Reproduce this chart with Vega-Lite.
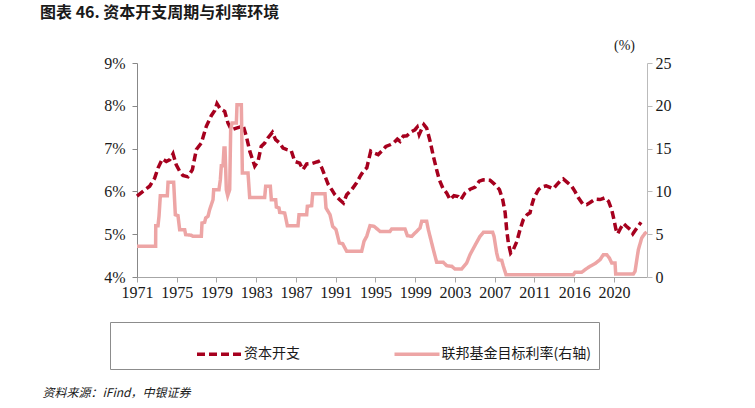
{
  "$schema": "https://vega.github.io/schema/vega-lite/v6.json",
  "width": 510,
  "height": 214,
  "autosize": {"type": "none"},
  "padding": {"left": 137, "top": 63, "right": 108, "bottom": 131},
  "background": "white",
  "title": {
    "text": "图表 46. 资本开支周期与利率环境",
    "anchor": "start",
    "frame": "group",
    "dx": -97,
    "offset": 17,
    "font": "Noto Sans CJK SC",
    "fontSize": 16,
    "fontWeight": "bold",
    "color": "#1a1a1a"
  },
  "datasets": {
    "capex": [
      {"i": 0, "v": 5.89}, {"i": 2.4, "v": 6.0}, {"i": 5.1, "v": 6.12}, {"i": 7.1, "v": 6.31}, {"i": 8.5, "v": 6.55},
      {"i": 10.2, "v": 6.76}, {"i": 11.8, "v": 6.7}, {"i": 13.2, "v": 6.74}, {"i": 14.5, "v": 6.88}, {"i": 15.8, "v": 6.62},
      {"i": 17.2, "v": 6.47}, {"i": 18.5, "v": 6.37}, {"i": 20.5, "v": 6.34}, {"i": 22.3, "v": 6.51}, {"i": 23.9, "v": 6.98},
      {"i": 25.9, "v": 7.13}, {"i": 27.9, "v": 7.52}, {"i": 29.9, "v": 7.77}, {"i": 31.3, "v": 7.89}, {"i": 32.2, "v": 8.05},
      {"i": 33.5, "v": 7.93}, {"i": 35.3, "v": 7.87}, {"i": 36.6, "v": 7.6}, {"i": 38.0, "v": 7.44}, {"i": 40.0, "v": 7.48},
      {"i": 41.3, "v": 7.5}, {"i": 42.7, "v": 7.54}, {"i": 44.0, "v": 7.29}, {"i": 45.4, "v": 6.94}, {"i": 47.4, "v": 6.59},
      {"i": 48.7, "v": 6.7}, {"i": 50.0, "v": 7.05}, {"i": 51.4, "v": 7.13}, {"i": 52.7, "v": 7.25}, {"i": 54.5, "v": 7.38},
      {"i": 55.8, "v": 7.21}, {"i": 57.4, "v": 7.13}, {"i": 58.8, "v": 7.01}, {"i": 60.1, "v": 6.98}, {"i": 62.1, "v": 6.95},
      {"i": 63.5, "v": 6.7}, {"i": 65.5, "v": 6.66}, {"i": 66.8, "v": 6.51}, {"i": 68.3, "v": 6.64}, {"i": 70.3, "v": 6.65},
      {"i": 73.0, "v": 6.7}, {"i": 74.4, "v": 6.55}, {"i": 75.7, "v": 6.35}, {"i": 77.0, "v": 6.16}, {"i": 78.4, "v": 6.04},
      {"i": 79.7, "v": 5.92}, {"i": 81.5, "v": 5.81}, {"i": 83.1, "v": 5.73}, {"i": 84.4, "v": 5.92}, {"i": 86.4, "v": 6.04},
      {"i": 88.4, "v": 6.2}, {"i": 89.8, "v": 6.35}, {"i": 91.1, "v": 6.47}, {"i": 92.5, "v": 6.55}, {"i": 94.1, "v": 6.94},
      {"i": 95.4, "v": 6.9}, {"i": 97.1, "v": 6.86}, {"i": 98.5, "v": 6.94}, {"i": 100.2, "v": 7.05}, {"i": 101.9, "v": 7.09},
      {"i": 103.2, "v": 7.13}, {"i": 104.8, "v": 7.22}, {"i": 105.9, "v": 7.17}, {"i": 107.2, "v": 7.29}, {"i": 108.6, "v": 7.3},
      {"i": 110.6, "v": 7.4}, {"i": 111.9, "v": 7.44}, {"i": 112.8, "v": 7.5}, {"i": 113.6, "v": 7.33}, {"i": 114.6, "v": 7.46},
      {"i": 115.5, "v": 7.56}, {"i": 116.6, "v": 7.48}, {"i": 118.0, "v": 7.17}, {"i": 119.3, "v": 6.82}, {"i": 120.6, "v": 6.51},
      {"i": 121.7, "v": 6.27}, {"i": 123.1, "v": 6.08}, {"i": 124.7, "v": 5.96}, {"i": 126.0, "v": 5.81}, {"i": 127.6, "v": 5.9},
      {"i": 129.3, "v": 5.88}, {"i": 130.4, "v": 5.81}, {"i": 132.0, "v": 5.96}, {"i": 134.1, "v": 6.05}, {"i": 136.1, "v": 6.1},
      {"i": 137.8, "v": 6.24}, {"i": 139.4, "v": 6.27}, {"i": 142.1, "v": 6.26}, {"i": 144.1, "v": 6.16}, {"i": 145.9, "v": 6.04},
      {"i": 147.2, "v": 5.81}, {"i": 148.2, "v": 5.5}, {"i": 148.8, "v": 5.11}, {"i": 149.5, "v": 4.79}, {"i": 150.4, "v": 4.56},
      {"i": 151.5, "v": 4.64}, {"i": 152.9, "v": 4.83}, {"i": 154.2, "v": 5.11}, {"i": 155.5, "v": 5.34}, {"i": 157.1, "v": 5.46},
      {"i": 158.2, "v": 5.5}, {"i": 158.8, "v": 5.65}, {"i": 159.8, "v": 5.85}, {"i": 161.6, "v": 6.04}, {"i": 162.9, "v": 6.1},
      {"i": 164.7, "v": 6.13}, {"i": 166.0, "v": 6.1}, {"i": 167.6, "v": 6.06}, {"i": 169.0, "v": 6.16}, {"i": 170.3, "v": 6.24},
      {"i": 171.6, "v": 6.29}, {"i": 173.2, "v": 6.21}, {"i": 175.0, "v": 6.12}, {"i": 176.3, "v": 6.0}, {"i": 177.7, "v": 5.85},
      {"i": 179.4, "v": 5.71}, {"i": 181.0, "v": 5.69}, {"i": 182.4, "v": 5.74}, {"i": 184.4, "v": 5.82}, {"i": 186.4, "v": 5.81},
      {"i": 188.4, "v": 5.85}, {"i": 189.8, "v": 5.77}, {"i": 191.1, "v": 5.57}, {"i": 192.0, "v": 5.34}, {"i": 192.8, "v": 5.11},
      {"i": 193.5, "v": 5.01}, {"i": 194.4, "v": 5.11}, {"i": 195.8, "v": 5.25}, {"i": 197.1, "v": 5.18}, {"i": 198.5, "v": 5.11},
      {"i": 199.6, "v": 5.01}, {"i": 200.8, "v": 5.11}, {"i": 201.9, "v": 5.2}, {"i": 202.9, "v": 5.28}
    ],
    "fed": [
      {"i": 0, "v": 3.58}, {"i": 7.5, "v": 3.58}, {"i": 7.55, "v": 6.0}, {"i": 8.45, "v": 6.0}, {"i": 8.86, "v": 7.1},
      {"i": 9.39, "v": 9.5}, {"i": 12.2, "v": 9.5}, {"i": 12.5, "v": 11.06}, {"i": 14.76, "v": 11.06}, {"i": 15.43, "v": 7.28},
      {"i": 16.5, "v": 7.17}, {"i": 17.18, "v": 5.53}, {"i": 19.19, "v": 5.53}, {"i": 19.59, "v": 4.95}, {"i": 21.87, "v": 4.87},
      {"i": 22.54, "v": 4.75}, {"i": 25.9, "v": 4.75}, {"i": 26.17, "v": 6.31}, {"i": 27.24, "v": 6.39}, {"i": 27.64, "v": 6.89},
      {"i": 28.58, "v": 7.09}, {"i": 29.25, "v": 7.87}, {"i": 30.6, "v": 9.03}, {"i": 30.87, "v": 10.2}, {"i": 33.0, "v": 10.2},
      {"i": 33.55, "v": 11.37}, {"i": 33.95, "v": 13.01}, {"i": 34.62, "v": 13.01}, {"i": 35.03, "v": 15.07}, {"i": 35.43, "v": 15.07},
      {"i": 35.96, "v": 10.2}, {"i": 36.5, "v": 9.5}, {"i": 37.31, "v": 10.2}, {"i": 37.71, "v": 17.21}, {"i": 38.25, "v": 17.99},
      {"i": 40.0, "v": 17.99}, {"i": 40.26, "v": 20.13}, {"i": 42.0, "v": 20.13}, {"i": 42.41, "v": 12.15}, {"i": 44.69, "v": 12.15},
      {"i": 45.36, "v": 9.3}, {"i": 51.4, "v": 9.3}, {"i": 51.8, "v": 10.59}, {"i": 53.68, "v": 10.59}, {"i": 54.08, "v": 9.03},
      {"i": 55.83, "v": 9.03}, {"i": 56.09, "v": 8.18}, {"i": 57.17, "v": 8.06}, {"i": 57.44, "v": 7.55}, {"i": 59.45, "v": 7.48},
      {"i": 60.52, "v": 6.0}, {"i": 64.82, "v": 6.0}, {"i": 65.22, "v": 7.28}, {"i": 68.3, "v": 7.28}, {"i": 68.57, "v": 8.26},
      {"i": 70.32, "v": 8.33}, {"i": 70.72, "v": 9.74}, {"i": 75.68, "v": 9.74}, {"i": 76.09, "v": 8.06}, {"i": 77.7, "v": 7.28},
      {"i": 78.77, "v": 5.92}, {"i": 80.11, "v": 5.53}, {"i": 81.45, "v": 3.97}, {"i": 82.8, "v": 3.89}, {"i": 84.41, "v": 3.0},
      {"i": 90.44, "v": 3.0}, {"i": 91.38, "v": 4.17}, {"i": 92.46, "v": 4.75}, {"i": 93.8, "v": 6.0}, {"i": 95.41, "v": 5.92},
      {"i": 97.83, "v": 5.33}, {"i": 101.85, "v": 5.33}, {"i": 102.52, "v": 5.61}, {"i": 107.89, "v": 5.61}, {"i": 108.83, "v": 4.83},
      {"i": 110.57, "v": 4.75}, {"i": 111.92, "v": 5.14}, {"i": 113.93, "v": 5.72}, {"i": 114.6, "v": 6.5}, {"i": 116.61, "v": 6.5},
      {"i": 117.28, "v": 5.53}, {"i": 119.3, "v": 3.19}, {"i": 120.64, "v": 1.71}, {"i": 123.32, "v": 1.71}, {"i": 124.66, "v": 1.32},
      {"i": 126.68, "v": 1.25}, {"i": 128.02, "v": 0.93}, {"i": 130.7, "v": 0.93}, {"i": 132.72, "v": 1.64}, {"i": 134.06, "v": 2.61},
      {"i": 136.07, "v": 3.7}, {"i": 138.08, "v": 4.75}, {"i": 139.43, "v": 5.22}, {"i": 143.18, "v": 5.22}, {"i": 143.72, "v": 4.75},
      {"i": 144.79, "v": 2.8}, {"i": 145.46, "v": 2.02}, {"i": 146.81, "v": 1.95}, {"i": 147.48, "v": 1.25}, {"i": 148.55, "v": 0.27},
      {"i": 175.66, "v": 0.27}, {"i": 176.33, "v": 0.55}, {"i": 179.01, "v": 0.55}, {"i": 180.36, "v": 0.86}, {"i": 182.37, "v": 1.25},
      {"i": 184.38, "v": 1.56}, {"i": 186.39, "v": 2.02}, {"i": 187.73, "v": 2.61}, {"i": 189.07, "v": 2.61}, {"i": 190.15, "v": 2.22},
      {"i": 191.09, "v": 1.64}, {"i": 192.43, "v": 1.64}, {"i": 192.7, "v": 0.35}, {"i": 199.81, "v": 0.35}, {"i": 200.48, "v": 0.66},
      {"i": 201.82, "v": 3.19}, {"i": 203.17, "v": 4.56}, {"i": 204.51, "v": 5.1}, {"i": 205.19, "v": 5.25}
    ]
  },
  "layer": [
    {
      "data": {"name": "capex"},
      "mark": {"type": "line", "strokeWidth": 3.5, "strokeCap": "butt"},
      "encoding": {
        "x": {
          "field": "i",
          "type": "quantitative",
          "scale": {"domain": [0, 205.3], "nice": false, "zero": false},
          "axis": {
            "values": [0, 16, 32, 48, 64, 80, 96, 112, 128, 144, 160, 176, 192],
            "labelExpr": "['1971','1975','1979','1983','1987','1991','1995','1999','2003','2007','2011','2016','2020'][round(datum.value/16)]",
            "labelFont": "Liberation Serif",
            "labelFontSize": 16,
            "labelColor": "#1a1a1a",
            "labelPadding": 2,
            "labelFlush": false,
            "labelOverlap": false,
            "domainColor": "#A6A6A6",
            "tickColor": "#A6A6A6",
            "tickSize": 5,
            "grid": false,
            "title": "资料来源：iFind，中银证券",
            "titleX": -95,
            "titleY": 115,
            "titleAlign": "left",
            "titleAnchor": "start",
            "titleBaseline": "middle",
            "titleFont": "Noto Sans CJK SC",
            "titleFontSize": 12,
            "titleFontStyle": "italic",
            "titleFontWeight": "normal",
            "titleColor": "#1a1a1a"
          }
        },
        "y": {
          "field": "v",
          "type": "quantitative",
          "scale": {"domain": [4, 9], "nice": false, "zero": false},
          "axis": {
            "values": [4, 5, 6, 7, 8, 9],
            "labelExpr": "datum.value + '%'",
            "labelFont": "Liberation Serif",
            "labelFontSize": 16,
            "labelColor": "#1a1a1a",
            "labelPadding": 7,
            "labelFlush": false,
            "domainColor": "#888888",
            "tickColor": "#888888",
            "tickSize": 5,
            "grid": false,
            "title": null
          }
        },
        "color": {
          "datum": "资本开支",
          "type": "nominal",
          "scale": {"domain": ["资本开支", "联邦基金目标利率(右轴)"], "range": ["#A6001E", "#EDA5A5"]},
          "legend": {"title": null}
        },
        "strokeDash": {
          "datum": "资本开支",
          "type": "nominal",
          "scale": {"domain": ["资本开支", "联邦基金目标利率(右轴)"], "range": [[8, 4], [1, 0]]},
          "legend": {"title": null}
        }
      }
    },
    {
      "data": {"name": "fed"},
      "mark": {"type": "line", "strokeWidth": 3.5},
      "encoding": {
        "x": {"field": "i", "type": "quantitative"},
        "y": {
          "field": "v",
          "type": "quantitative",
          "scale": {"domain": [0, 25], "nice": false, "zero": true},
          "axis": {
            "orient": "right",
            "values": [0, 5, 10, 15, 20, 25],
            "labelFont": "Liberation Serif",
            "labelFontSize": 16,
            "labelColor": "#1a1a1a",
            "labelPadding": 3,
            "labelFlush": false,
            "domainColor": "#BBBBBB",
            "tickColor": "#BBBBBB",
            "tickSize": 5,
            "grid": false,
            "title": "(%)",
            "titleAngle": 0,
            "titleX": -23,
            "titleY": -18,
            "titleAlign": "center",
            "titleBaseline": "middle",
            "titleFont": "Liberation Serif",
            "titleFontSize": 14,
            "titleFontWeight": "normal",
            "titleColor": "#1a1a1a"
          }
        },
        "color": {"datum": "联邦基金目标利率(右轴)", "type": "nominal"},
        "strokeDash": {"datum": "联邦基金目标利率(右轴)", "type": "nominal"}
      }
    }
  ],
  "resolve": {"scale": {"y": "independent"}},
  "config": {
    "view": {"stroke": null},
    "legend": {
      "orient": "none",
      "legendX": -27,
      "legendY": 259,
      "direction": "horizontal",
      "strokeColor": "#8C8C8C",
      "strokeWidth": 1,
      "padding": 7.5,
      "columnPadding": 14.5,
      "symbolType": "stroke",
      "symbolSize": 2025,
      "symbolStrokeWidth": 3.5,
      "symbolOffset": 77.5,
      "labelFont": "Noto Sans CJK SC",
      "labelFontSize": 14,
      "labelColor": "#1a1a1a",
      "labelOffset": 0,
      "labelLimit": 400,
      "labelExpr": "datum.label == '资本开支' ? datum.label : datum.label + '　　　　　　'"
    }
  }
}
